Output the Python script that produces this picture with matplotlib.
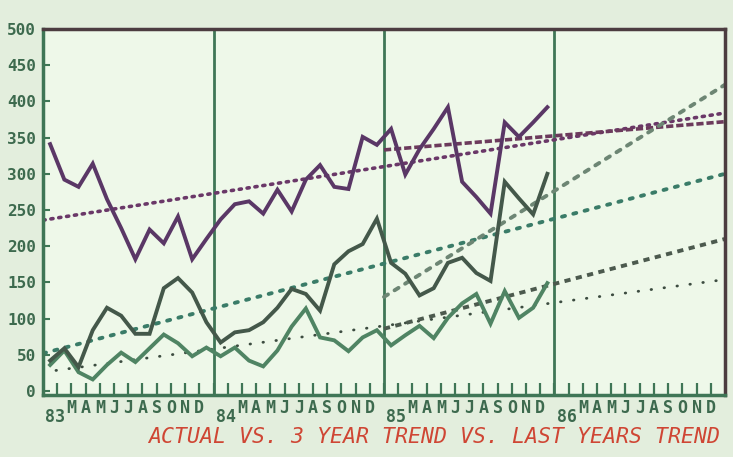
import numpy as np
import matplotlib
matplotlib.use("Agg")
from matplotlib import pyplot as plt

# monthly actuals, Jan 83 .. Dec 85 (36 months)
purple_actual = [341, 292, 282, 314, 265, 225, 182, 223, 204, 241, 182, 210,
                 237, 258, 262, 245, 278, 248, 292, 312, 282, 279, 351, 340,
                 362, 299, 334, 362, 392, 289, 268, 245, 371, 351, 371, 392]
dark_actual = [42, 59, 33, 84, 115, 104, 79, 79, 142, 156, 136, 95,
               67, 81, 84, 95, 115, 141, 134, 111, 175, 193, 203, 238,
               177, 162, 132, 142, 177, 184, 163, 152, 289, 266, 244, 300]
light_actual = [36, 56, 26, 16, 36, 53, 40, 59, 78, 66, 48, 60,
                48, 60, 42, 34, 56, 89, 114, 74, 70, 55, 74, 84,
                63, 77, 90, 73, 101, 121, 134, 93, 138, 101, 115, 149]

# 3 year trends (Jan 83 -> end of 86)
trend3_months = [0, 48]
purple_trend3 = [236, 384]
dark_trend3 = [52, 300]
light_trend3 = [26, 154]

# last years trends (Jan 85 -> end of 86)
trend1_months = [24, 48]
purple_trend1 = [333, 372]
dark_trend1 = [130, 423]
light_trend1 = [86, 210]

years = ["83", "84", "85", "86"]
month_letters = ["", "", "M", "A", "M", "J", "J", "A", "S", "O", "N", "D"]
y_ticks = [0, 50, 100, 150, 200, 250, 300, 350, 400, 450, 500]

title = "ACTUAL VS. 3 YEAR TREND VS. LAST YEARS TREND"

green = "#3f7656"
label_green = "#3d6a4e"

fig = plt.figure(figsize=(7.33, 4.57), dpi=100)
fig.patch.set_facecolor("#e3eedd")
ax = fig.add_axes([0.0587, 0.1357, 0.9303, 0.8008])
ax.set_facecolor("#eef8e9")

months = np.arange(len(purple_actual)) + 0.5

# trend lines
ax.plot(trend3_months, purple_trend3, color="#6a3868", lw=2.6,
        linestyle=(0, (0.6, 1.6)), dash_capstyle="round")
ax.plot(trend3_months, dark_trend3, color="#3a7c68", lw=2.8,
        linestyle=(0, (0.8, 2.2)), dash_capstyle="round")
ax.plot(trend3_months, light_trend3, color="#3c4c40", lw=2.0,
        linestyle=(0, (0.2, 4.5)), dash_capstyle="round")
ax.plot(trend1_months, purple_trend1, color="#6c3a5c", lw=2.6,
        linestyle=(0, (2.0, 0.8)))
ax.plot(trend1_months, dark_trend1, color="#6d8674", lw=2.8,
        linestyle=(0, (1.2, 2.0)), dash_capstyle="round")
ax.plot(trend1_months, light_trend1, color="#4c5a4e", lw=2.8,
        linestyle=(0, (1.6, 1.4)))

# actuals
ax.plot(months, light_actual, color="#4f8463", lw=2.8, solid_joinstyle="miter")
ax.plot(months, dark_actual, color="#44584a", lw=2.8, solid_joinstyle="miter")
ax.plot(months, purple_actual, color="#5a3766", lw=2.8, solid_joinstyle="miter")

# year separators
for m in [12, 24, 36]:
    ax.axvline(m, color=green, lw=2.0, zorder=0.5)

ax.set_xlim(0, 48)
ax.set_ylim(-5.5, 500)

for side in ["left", "bottom"]:
    ax.spines[side].set_color(green)
    ax.spines[side].set_linewidth(2.5)
for side in ["top", "right"]:
    ax.spines[side].set_color("#4c3c40")
    ax.spines[side].set_linewidth(2.5)

ax.set_yticks(y_ticks)
ax.set_yticklabels([str(v) for v in y_ticks], family="DejaVu Sans Mono",
                   fontweight="bold", fontsize=11.5, color=label_green)
ax.tick_params(axis="y", direction="in", length=5, width=1.5, color=green, pad=5)

xt = np.arange(1, 48)
ax.set_xticks(xt)
ax.set_xticklabels([month_letters[m % 12] for m in xt], family="DejaVu Sans Mono",
                   fontweight="bold", fontsize=12, color=label_green)
ax.tick_params(axis="x", direction="in", length=9, width=1.6, color=green, pad=3)

for i, yr in enumerate(years):
    ax.text(12 * i + 0.15, -0.035, yr, transform=ax.get_xaxis_transform(),
            ha="left", va="top", family="DejaVu Sans Mono", fontweight="bold",
            fontsize=12, color=label_green)

fig.text(0.592, 0.044, title, ha="center", va="center", family="DejaVu Sans Mono",
         style="oblique", fontsize=15.5, color="#cf4634")

fig.savefig("out.png", dpi=100, facecolor=fig.get_facecolor())
